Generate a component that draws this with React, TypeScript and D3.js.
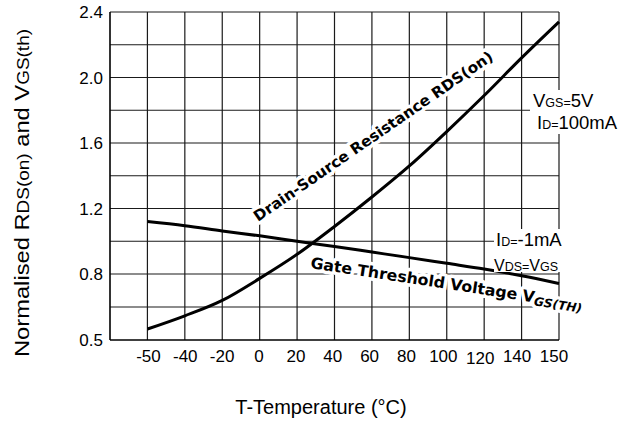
import React from 'react';
import * as d3 from 'd3';

// x tick labels sit on evenly spaced grid lines (not a linear temperature axis)
const xTicks = [-50, -40, -20, 0, 20, 40, 60, 80, 100, 120, 140, 150];
// y tick labels, the bottom one is 0.5 although spacing is uneven
const yTicks = [0.5, 0.8, 1.2, 1.6, 2.0, 2.4];
const yGrid = [0.65, 0.8, 1.0, 1.2, 1.4, 1.6, 1.8, 2.0, 2.2];

// normalised drain-source resistance RDS(on)
const rdsTemp = [-50, -40, -20, 0, 20, 40, 60, 80, 100, 120, 140, 150];
const rdsValue = [0.55, 0.61, 0.68, 0.78, 0.92, 1.09, 1.27, 1.46, 1.67, 1.89, 2.12, 2.34];

// normalised gate threshold voltage VGS(th)
const vgsTemp = [-50, -40, -20, 0, 20, 40, 60, 80, 100, 120, 140, 150];
const vgsValue = [1.12, 1.095, 1.063, 1.033, 1.0, 0.968, 0.934, 0.9, 0.865, 0.83, 0.792, 0.757];

const width = 621;
const height = 438;
const left = 110;
const right = 559;
const top = 12;
const bottom = 340;

const idx = d3.scaleLinear().domain([0, 12]).range([left, right]);
const x = d3
  .scaleLinear()
  .domain([-60, ...xTicks])
  .range(d3.range(13).map((i) => idx(i)));
const y = d3.scaleLinear().domain([0.5, 0.8, 2.4]).range([bottom, 274, top]);

const line = d3
  .line<[number, number]>()
  .x((d) => x(d[0]))
  .y((d) => y(d[1]))
  .curve(d3.curveMonotoneX);

const arial = '"Liberation Sans", Arial, sans-serif';
const verdana = '"DejaVu Sans", Verdana, sans-serif';

export default function App() {
  const halo = { paintOrder: 'stroke' as const, stroke: '#fff', strokeWidth: 7, strokeLinejoin: 'round' as const };
  return (
    <svg width={width} height={height} style={{ position: 'absolute', left: 0, top: 0, background: '#fff' }}>
      <rect width={width} height={height} fill="#fff" />
      {/* grid */}
      <g stroke="#1a1a1a" strokeWidth={1.2}>
        {d3.range(1, 13).map((i) => (
          <line key={'v' + i} x1={idx(i)} x2={idx(i)} y1={top} y2={bottom} />
        ))}
        {yGrid.map((v) => (
          <line key={'h' + v} x1={left} x2={right} y1={y(v)} y2={y(v)} />
        ))}
        <line x1={left} x2={right} y1={top} y2={top} />
      </g>
      <g stroke="#000" strokeWidth={1.6}>
        <line x1={left} x2={left} y1={top} y2={bottom} />
        <line x1={left} x2={right} y1={bottom} y2={bottom} />
      </g>

      {/* curves */}
      <path d={line(rdsTemp.map((t, i) => [t, rdsValue[i]]) as any) || ''} fill="none" stroke="#000" strokeWidth={3} />
      <path d={line(vgsTemp.map((t, i) => [t, vgsValue[i]]) as any) || ''} fill="none" stroke="#000" strokeWidth={3} />

      {/* y tick labels */}
      <g fontFamily={arial} fontSize={17} textAnchor="end">
        {yTicks.map((v) => (
          <text key={v} x={103} y={y(v) + 6}>
            {v.toFixed(1)}
          </text>
        ))}
      </g>
      {/* x tick labels */}
      <g fontFamily={arial} fontSize={17} textAnchor="middle">
        {xTicks.map((t, i) => (
          <text key={t} x={x(t) + 1 - i * 0.55} y={t === 120 ? 364 : 362}>
            {t}
          </text>
        ))}
      </g>

      {/* curve labels */}
      <text
        transform="translate(258,222) rotate(-34.6)"
        fontFamily={verdana}
        fontWeight="bold"
        fontSize={15}
        textLength={287}
        lengthAdjust="spacingAndGlyphs"
        style={halo}
      >
        Drain-Source Resistance RDS(on)
      </text>
      <text
        transform="translate(310,268) rotate(8.7)"
        fontFamily={verdana}
        fontWeight="bold"
        fontSize={15.5}
        textLength={275}
        lengthAdjust="spacingAndGlyphs"
        style={halo}
      >
        Gate Threshold Voltage V
        <tspan fontSize={12} fontStyle="italic" dy={3}>
          GS(TH)
        </tspan>
      </text>

      {/* condition labels */}
      <rect x={530} y={90} width={91} height={44} fill="#fff" />
      <text x={533} y={107} fontFamily={arial} fontSize={18.5}>
        V<tspan fontSize={12.5}>GS=</tspan>5V
      </text>
      <text x={537} y={129} fontFamily={arial} fontSize={18.5}>
        I<tspan fontSize={12.5}>D=</tspan>100mA
      </text>
      <rect x={494} y={229} width={74} height={43} fill="#fff" />
      <text x={496} y={246} fontFamily={arial} fontSize={18.5}>
        I<tspan fontSize={12.5}>D=</tspan>-1mA
      </text>
      <text x={494} y={271} fontFamily={arial} fontSize={16}>
        V<tspan fontSize={12.5}>DS=</tspan>V<tspan fontSize={12.5}>GS</tspan>
      </text>

      {/* axis titles */}
      <text
        transform="translate(29,193) rotate(-90)"
        fontFamily={arial}
        fontSize={20}
        textAnchor="middle"
        textLength={328}
        lengthAdjust="spacingAndGlyphs"
      >
        Normalised R<tspan fontSize={16}>DS(on)</tspan> and V<tspan fontSize={16}>GS(th)</tspan>
      </text>
      <text x={321} y={414} fontFamily={arial} fontSize={20} textAnchor="middle">
        T-Temperature (°C)
      </text>
    </svg>
  );
}
